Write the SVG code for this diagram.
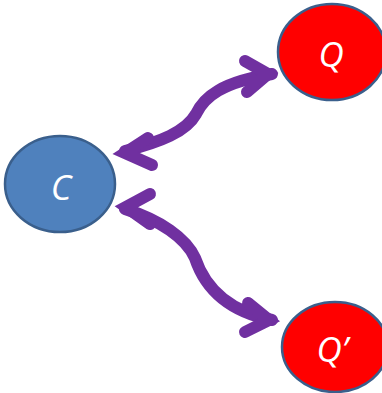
<svg xmlns="http://www.w3.org/2000/svg" width="382" height="393" viewBox="0 0 382 393">
<style>
.node-blue{fill:#4F81BD;stroke:#3A5F8C;stroke-width:2.5}
.node-red{fill:#FF0000;stroke:#3A5F8C;stroke-width:2.5}
.lbl{fill:#FFFFFF;font-family:"Open Sans","Liberation Sans",sans-serif;font-style:italic;font-size:35px;text-anchor:middle}
.conn{fill:none;stroke:#7030A0;stroke-width:12;stroke-linecap:round;stroke-linejoin:miter}
</style>
<rect width="382" height="393" fill="#FFFFFF"/>
<g id="connectors">
<path class="conn" d="M125,151 C160,142 186,132 196,114 C204,97 222,82 272,74"/>
<polyline class="conn" points="148,138 125,153 152,165"/>
<polyline class="conn" points="245,61 268,74 247,92"/>
<path class="conn" d="M125,209 C160,220 186,238 195,258 C203,282 222,310 272,320"/>
<polyline class="conn" points="150,194 126,207 150,224"/>
<polyline class="conn" points="248,303 269,320 245,332"/>
</g>
<g id="node-C">
<ellipse class="node-blue" cx="60" cy="184" rx="55" ry="48"/>
<text class="lbl" x="61" y="200">C</text>
</g>
<g id="node-Q">
<ellipse class="node-red" cx="332" cy="52" rx="54" ry="48"/>
<text class="lbl" x="331" y="67">Q</text>
</g>
<g id="node-Qprime">
<ellipse class="node-red" cx="335" cy="347" rx="53" ry="45"/>
<text class="lbl" x="332" y="362">Q’</text>
</g>
</svg>
